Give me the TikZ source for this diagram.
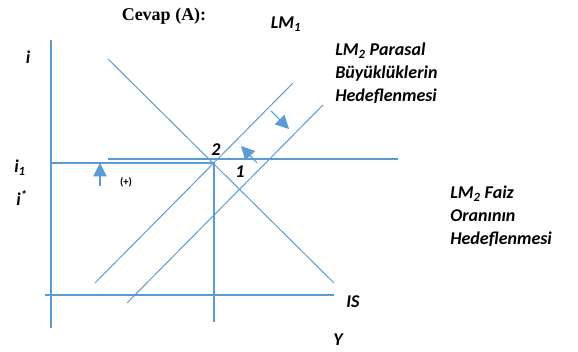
\documentclass[tikz,border=0pt]{standalone}
\usepackage{fontspec}
\setmainfont{Carlito}
\newfontfamily\titlefont{Liberation Serif}
\usetikzlibrary{arrows.meta}
\definecolor{lineblue}{RGB}{91,155,213}

\begin{document}
\begin{tikzpicture}[x=0.75pt,y=-0.75pt,
	axis/.style={draw=lineblue,line width=1.1pt},
	curve/.style={draw=lineblue,line width=0.75pt},
	move/.style={draw=lineblue,line width=0.8pt,-{Triangle[width=10pt,length=10pt]}},
	lbl/.style={font=\bfseries\itshape\fontsize{13.5}{17}\selectfont,inner sep=0pt},
	note/.style={lbl,align=left,anchor=north west}]
	\useasboundingbox (0,0) rectangle (578,352);
	\coordinate (A1) at (51,40);
	\coordinate (A2) at (51,328);
	\coordinate (B1) at (45,295);
	\coordinate (B2) at (334,295);
	\coordinate (IS1) at (108,59);
	\coordinate (IS2) at (334,283);
	\coordinate (L1a) at (293,83);
	\coordinate (L1b) at (95,283);
	\coordinate (L2a) at (323,105);
	\coordinate (L2b) at (127,303);
	\coordinate (E2) at (214,163);
	\coordinate (Ey) at (214,322);
	\coordinate (R1) at (108,159);
	\coordinate (R2) at (398,159);
	\draw[axis] (A1) -- (A2);
	\draw[axis] (B1) -- (B2);
	\draw[curve] (IS1) -- (IS2);
	\draw[curve] (L1a) -- (L1b);
	\draw[curve] (L2a) -- (L2b);
	\draw[axis] (A1 |- E2) -- (E2) -- (Ey);
	\draw[axis] (R1) -- (R2);
	\coordinate (s1) at (271,111);
	\coordinate (t1) at (289,129);
	\coordinate (s2) at (257,163);
	\coordinate (t2) at (241,146);
	\coordinate (s3) at (100,186);
	\coordinate (t3) at (100,163);
	\draw[move] (s1) -- (t1);
	\draw[move] (s2) -- (t2);
	\draw[move] (s3) -- (t3);
	\node[font=\titlefont\bfseries\fontsize{13.5}{16}\selectfont] (title) at (164,16) {Cevap (A):};
	\node[lbl] (i) at (28,57) {i};
	\node[lbl] (i1) at (20,168) {i\textsubscript{1}};
	\node[lbl] (istar) at (22,198) {i\textsuperscript{*}};
	\node[lbl] (lm1) at (286,24) {LM\textsubscript{1}};
	\node[lbl] (p2) at (216,150) {2};
	\node[lbl] (p1) at (240,172) {1};
	\node[font=\bfseries\fontsize{8}{9}\selectfont,inner sep=0pt] (plus) at (126,182) {(+)};
	\node[note] (lm2) at (335,43) {LM\textsubscript{2} Parasal\\Büyüklüklerin\\Hedeflenmesi};
	\node[note] (lm3) at (450,186) {LM\textsubscript{2} Faiz\\Oranının\\Hedeflenmesi};
	\node[lbl] (is) at (353,302) {IS};
	\node[lbl] (y) at (338,340) {Y};
\end{tikzpicture}
\end{document}
